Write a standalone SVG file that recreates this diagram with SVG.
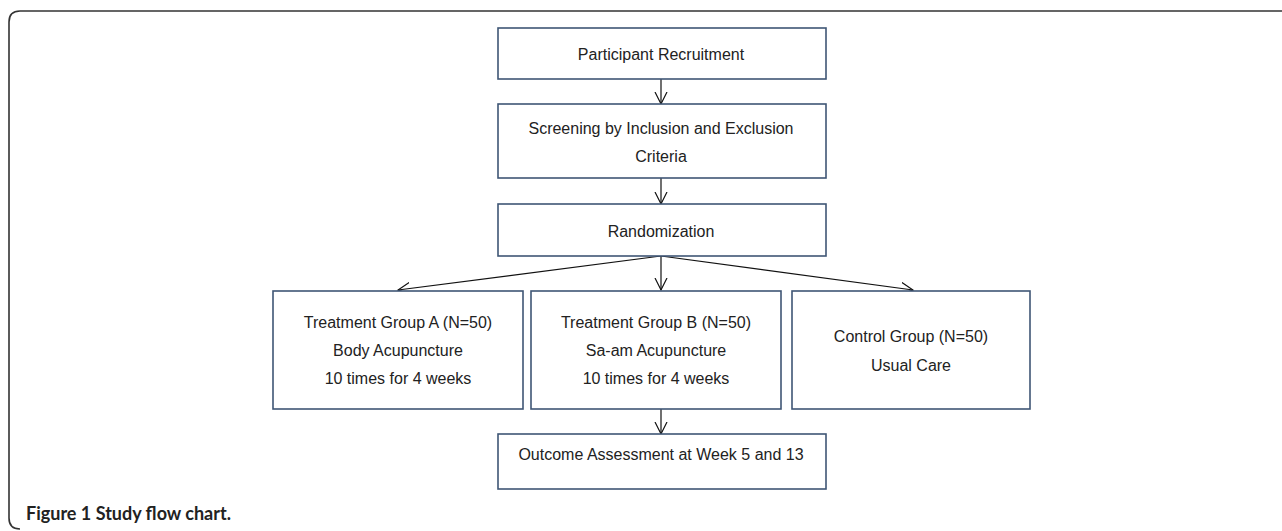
<svg xmlns="http://www.w3.org/2000/svg" width="1282" height="531" viewBox="0 0 1282 531">
<defs>
<style>
.box{fill:#fff;stroke:#3f5675;stroke-width:1.6}
.t{font-family:"Liberation Sans",Arial,sans-serif;font-size:16px;fill:#222;text-anchor:middle}
.c{stroke:#111;stroke-width:1.2;fill:none;marker-end:url(#arr)}
</style>
<marker id="arr" markerUnits="userSpaceOnUse" markerWidth="14" markerHeight="14" refX="12" refY="6.5" orient="auto" viewBox="0 0 14 13">
<path d="M0,0.5 L12,6.5 L0,12.5" fill="none" stroke="#111" stroke-width="1.2"/>
</marker>
</defs>
<rect width="1282" height="531" fill="#fff"/>
<path d="M20,529 Q9,529 9,518 L9,22 Q9,11 20,11 L1282,11" fill="none" stroke="#333" stroke-width="1.6"/>
<g id="connectors">
<line class="c" x1="661" y1="79" x2="661" y2="104"/>
<line class="c" x1="661" y1="178" x2="661" y2="204"/>
<line class="c" x1="661" y1="256" x2="661" y2="290"/>
<line class="c" x1="661" y1="256" x2="398" y2="290"/>
<line class="c" x1="661" y1="256" x2="913" y2="290"/>
<line class="c" x1="661" y1="409" x2="661" y2="434"/>
</g>
<g id="recruit">
<rect class="box" x="498" y="28" width="328" height="51"/>
<text class="t" x="661" y="60">Participant Recruitment</text>
</g>
<g id="screening">
<rect class="box" x="498" y="104" width="328" height="74"/>
<text class="t" x="661" y="134">Screening by Inclusion and Exclusion</text>
<text class="t" x="661" y="162">Criteria</text>
</g>
<g id="randomization">
<rect class="box" x="498" y="204" width="328" height="52"/>
<text class="t" x="661" y="237">Randomization</text>
</g>
<g id="groupA">
<rect class="box" x="273" y="291" width="250" height="118"/>
<text class="t" x="398" y="328">Treatment Group A (N=50)</text>
<text class="t" x="398" y="356">Body Acupuncture</text>
<text class="t" x="398" y="384">10 times for 4 weeks</text>
</g>
<g id="groupB">
<rect class="box" x="531" y="291" width="250" height="118"/>
<text class="t" x="656" y="328">Treatment Group B (N=50)</text>
<text class="t" x="656" y="356">Sa-am Acupuncture</text>
<text class="t" x="656" y="384">10 times for 4 weeks</text>
</g>
<g id="control">
<rect class="box" x="792" y="291" width="238" height="118"/>
<text class="t" x="911" y="342">Control Group (N=50)</text>
<text class="t" x="911" y="371">Usual Care</text>
</g>
<g id="outcome">
<rect class="box" x="498" y="434" width="328" height="55"/>
<text class="t" x="661" y="460">Outcome Assessment at Week 5 and 13</text>
</g>
<text x="26" y="520" font-family="Lato,'Open Sans',sans-serif" font-size="18" font-weight="700" fill="#222">Figure 1 Study flow chart.</text>
</svg>
